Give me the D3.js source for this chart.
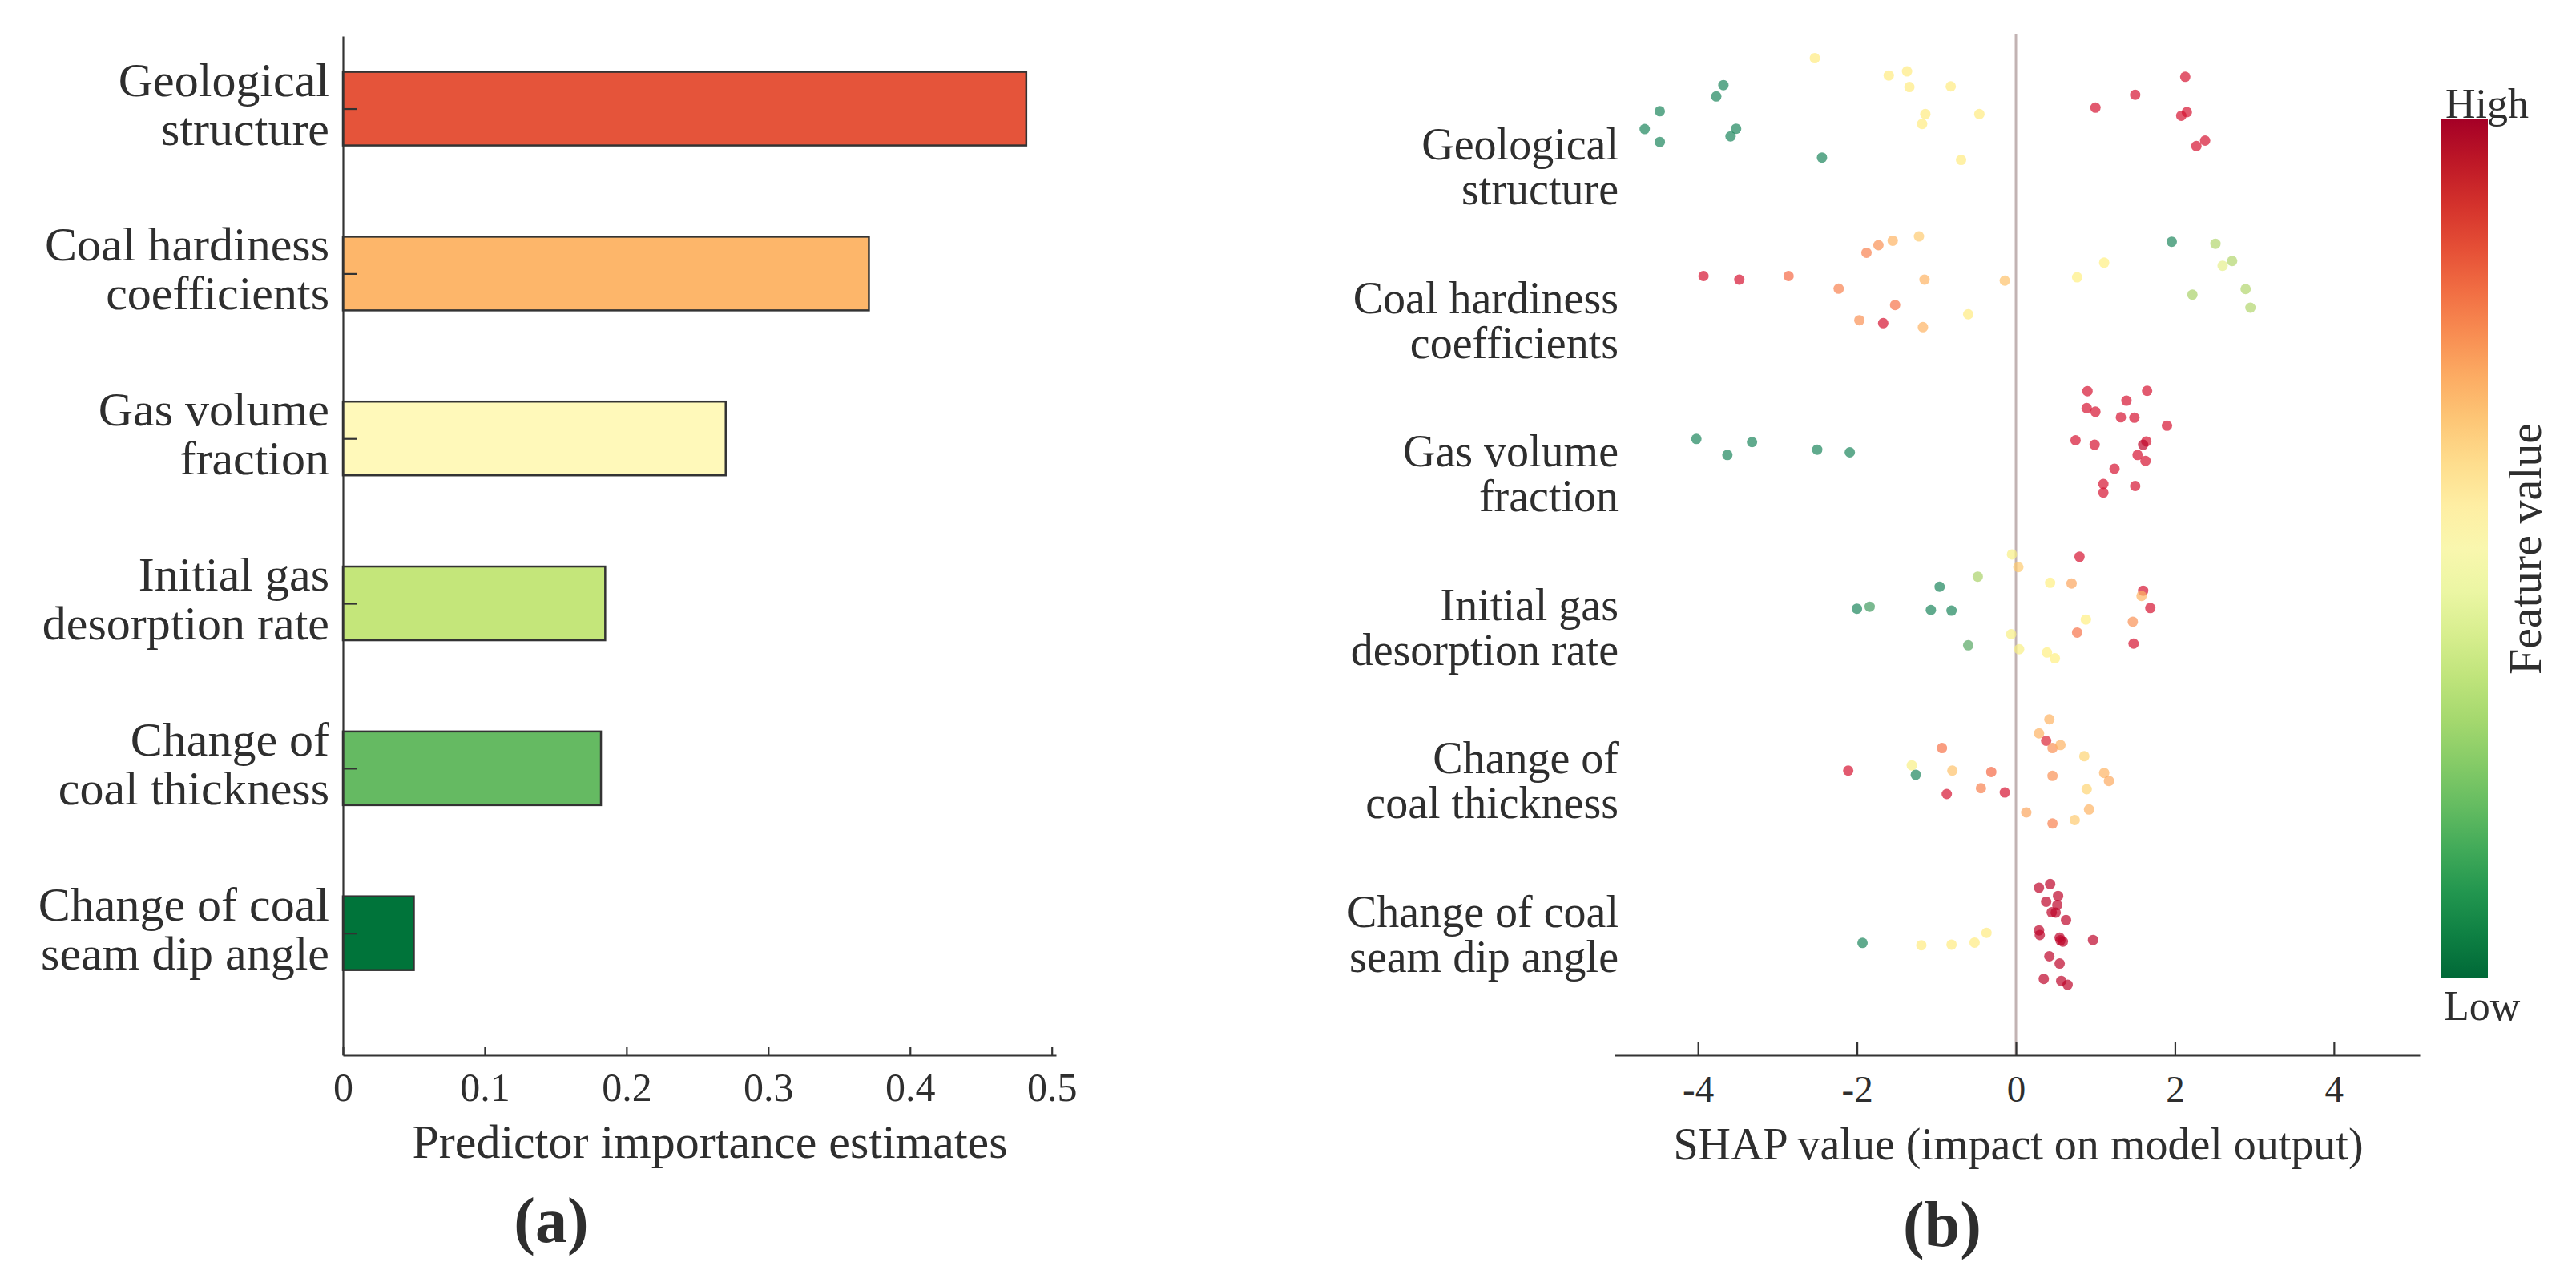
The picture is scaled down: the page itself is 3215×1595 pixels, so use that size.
<!DOCTYPE html>
<html lang="en">
<head>
  <meta charset="UTF-8">
  <title>Predictor importance and SHAP values</title>
  <script src="https://d3js.org/d3.v7.min.js"></script>
  <style>
    body { margin: 0; background: #fff; }
    text { font-family: "Liberation Serif", "Times New Roman", serif; fill: #2e2e2e; }
  </style>
</head>
<body>
  <div class="chart"></div>
  <script>
    // ---- data ----
    const labelLines = [
      ['Geological', 'structure'],
      ['Coal hardiness', 'coefficients'],
      ['Gas volume', 'fraction'],
      ['Initial gas', 'desorption rate'],
      ['Change of', 'coal thickness'],
      ['Change of coal', 'seam dip angle']
    ];
    const importance = [0.482, 0.371, 0.270, 0.185, 0.182, 0.050];
    const barColors = ['#e5543a', '#fdb66a', '#fff9ba', '#c4e67a', '#65ba62', '#00743a'];
    const importanceTicks = [0, 0.1, 0.2, 0.3, 0.4, 0.5];
    const shapTicks = [-4, -2, 0, 2, 4];

    // SHAP points: [shap value, vertical jitter (rows), feature value 0..1]
    const shapGeological = [
      [-4.48, 0.016, 0.08], [-4.67, 0.124, 0.08], [-4.48, 0.202, 0.08], [-3.68, -0.143, 0.08],
      [-3.77, -0.074, 0.08], [-3.52, 0.122, 0.08], [-3.59, 0.168, 0.08], [-2.44, 0.297, 0.08],
      [-2.53, -0.306, 0.53], [-1.60, -0.201, 0.53], [-1.37, -0.226, 0.53], [-1.34, -0.131, 0.53],
      [-0.82, -0.135, 0.53], [-1.14, 0.033, 0.53], [-1.18, 0.093, 0.53], [-0.46, 0.033, 0.53],
      [-0.69, 0.311, 0.53],
      [1.00, -0.006, 0.9], [1.50, -0.084, 0.9], [2.13, -0.193, 0.9], [2.15, 0.021, 0.9],
      [2.08, 0.043, 0.9], [2.27, 0.227, 0.9], [2.38, 0.194, 0.9]
    ];
    const shapHardness = [
      [-3.93, 0.015, 0.9], [-3.48, 0.037, 0.9], [-2.86, 0.015, 0.8], [-2.23, 0.092, 0.75],
      [-1.88, -0.126, 0.75], [-1.73, -0.172, 0.72], [-1.55, -0.199, 0.65], [-1.22, -0.225, 0.6],
      [-1.15, 0.037, 0.65], [-0.14, 0.043, 0.62], [-1.52, 0.191, 0.78], [-1.97, 0.283, 0.72],
      [-1.67, 0.301, 0.9], [-1.17, 0.325, 0.65], [-0.60, 0.247, 0.53], [0.77, 0.023, 0.52],
      [1.11, -0.066, 0.52], [1.96, -0.193, 0.1], [2.51, -0.181, 0.32], [2.72, -0.076, 0.32],
      [2.60, -0.047, 0.45], [2.89, 0.094, 0.32], [2.95, 0.207, 0.32], [2.22, 0.128, 0.3]
    ];
    const shapGasVolume = [
      [-4.02, 0.003, 0.08], [-3.63, 0.100, 0.08], [-3.32, 0.022, 0.08], [-2.50, 0.068, 0.08],
      [-2.09, 0.084, 0.08],
      [0.90, -0.287, 0.9], [1.65, -0.289, 0.9], [1.39, -0.229, 0.9], [0.89, -0.184, 0.9],
      [1.00, -0.162, 0.9], [1.32, -0.128, 0.9], [1.49, -0.126, 0.9], [1.90, -0.077, 0.9],
      [0.75, 0.011, 0.9], [0.99, 0.038, 0.9], [1.64, 0.018, 0.9], [1.60, 0.038, 0.97],
      [1.53, 0.100, 0.9], [1.63, 0.136, 0.9], [1.24, 0.183, 0.9], [1.10, 0.276, 0.9],
      [1.10, 0.328, 0.9], [1.50, 0.288, 0.9]
    ];
    const shapDesorption = [
      [-0.05, -0.297, 0.5], [0.03, -0.220, 0.6], [-0.48, -0.162, 0.3], [-0.96, -0.101, 0.08],
      [-2.00, 0.032, 0.08], [-1.84, 0.020, 0.15], [-1.07, 0.040, 0.08], [-0.81, 0.044, 0.08],
      [-0.60, 0.254, 0.18], [-0.06, 0.187, 0.5], [0.04, 0.278, 0.5], [0.80, -0.283, 0.9],
      [0.43, -0.125, 0.52], [0.70, -0.121, 0.68], [1.60, -0.077, 0.9], [1.58, -0.045, 0.65],
      [1.69, 0.028, 0.9], [0.88, 0.098, 0.52], [1.47, 0.111, 0.72], [0.77, 0.177, 0.78],
      [1.48, 0.244, 0.9], [0.39, 0.298, 0.52], [0.49, 0.333, 0.52]
    ];
    const shapThickness = [
      [-2.11, 0.014, 0.9], [-1.31, -0.018, 0.5], [-1.26, 0.039, 0.08], [-0.93, -0.123, 0.78],
      [-0.80, 0.014, 0.62], [-0.87, 0.156, 0.9], [-0.44, 0.121, 0.75], [-0.31, 0.022, 0.8],
      [-0.14, 0.147, 0.9], [0.42, -0.297, 0.65], [0.29, -0.212, 0.65], [0.38, -0.167, 0.88],
      [0.46, -0.123, 0.72], [0.56, -0.141, 0.65], [0.86, -0.073, 0.58], [0.46, 0.046, 0.72],
      [1.11, 0.028, 0.65], [1.17, 0.077, 0.67], [0.89, 0.127, 0.58], [0.92, 0.250, 0.65],
      [0.74, 0.314, 0.6], [0.46, 0.335, 0.75], [0.13, 0.268, 0.68]
    ];
    const shapDipAngle = [
      [-1.93, 0.059, 0.08], [-1.19, 0.073, 0.53], [-0.81, 0.069, 0.53], [-0.52, 0.057, 0.53],
      [-0.37, -0.002, 0.53],
      [0.29, -0.276, 0.97], [0.43, -0.298, 0.97], [0.53, -0.226, 0.97], [0.38, -0.191, 0.97],
      [0.52, -0.171, 0.97], [0.45, -0.127, 0.97], [0.50, -0.125, 0.97], [0.63, -0.080, 0.97],
      [0.29, -0.017, 0.97], [0.30, 0.011, 0.97], [0.55, 0.027, 0.97], [0.56, 0.043, 0.97],
      [0.59, 0.051, 0.97], [0.97, 0.041, 0.97], [0.42, 0.140, 0.97], [0.55, 0.184, 0.97],
      [0.35, 0.277, 0.97], [0.57, 0.289, 0.97], [0.65, 0.313, 0.97]
    ];
    const shapRows = [shapGeological, shapHardness, shapGasVolume, shapDesorption, shapThickness, shapDipAngle];

    // ---- layout ----
    const svg = d3.select('.chart').append('svg').attr('width', 3215).attr('height', 1595);

    const axisColor = '#333';
    const rowScale = d3.scaleLinear().domain([-0.44, 5.74]).range([45, 1317]);
    const barHalf = 0.2235;

    // ---- (a) predictor importance ----
    const xImp = d3.scaleLinear().domain([0, 0.503]).range([428, 1318]);
    const gA = svg.append('g');

    gA.selectAll('rect.bar')
      .data(importance)
      .enter()
      .append('rect')
      .attr('class', 'bar')
      .attr('x', xImp(0))
      .attr('y', (d, i) => rowScale(i - barHalf))
      .attr('width', d => xImp(d) - xImp(0))
      .attr('height', rowScale(barHalf) - rowScale(-barHalf))
      .style('fill', (d, i) => barColors[i])
      .style('stroke', '#333')
      .style('stroke-width', 2.5);

    const xAxisA = gA.append('g')
      .attr('transform', `translate(0,${rowScale.range()[1]})`)
      .call(d3.axisBottom(xImp)
        .tickValues(importanceTicks)
        .tickFormat(d => d === 0 ? '0' : d3.format('.1f')(d))
        .tickSize(-10).tickSizeOuter(0).tickPadding(21));
    const yAxisA = gA.append('g')
      .attr('transform', `translate(${xImp(0)},0)`)
      .call(d3.axisLeft(rowScale).tickValues(d3.range(6)).tickFormat('').tickSize(-17).tickSizeOuter(0));
    [xAxisA, yAxisA].forEach(a => {
      a.select('.domain').attr('stroke', axisColor).attr('stroke-width', 2.2);
      a.selectAll('.tick line').attr('stroke', axisColor).attr('stroke-width', 2.2);
    });
    xAxisA.selectAll('.tick text').style('font-size', '50px').attr('fill', '#2e2e2e');

    const labA = gA.selectAll('text.flabel')
      .data(labelLines)
      .enter()
      .append('text')
      .attr('class', 'flabel')
      .attr('text-anchor', 'end')
      .style('font-size', '60px');
    labA.append('tspan').attr('x', 411).attr('y', (d, i) => rowScale(i) - 16).text(d => d[0]);
    labA.append('tspan').attr('x', 411).attr('y', (d, i) => rowScale(i) + 45).text(d => d[1]);

    gA.append('text').attr('x', 886).attr('y', 1445).attr('text-anchor', 'middle')
      .style('font-size', '60px').text('Predictor importance estimates');
    gA.append('text').attr('x', 688).attr('y', 1550).attr('text-anchor', 'middle')
      .style('font-size', '80px').style('font-weight', 'bold').text('(a)');

    // ---- (b) SHAP summary ----
    const xShap = d3.scaleLinear().domain([-5.05, 5.08]).range([2015, 3020]);
    // dot colours (low -> high feature value), drawn semi-transparent
    const dotColor = d3.scaleLinear()
      .domain([0, 0.1, 0.3, 0.45, 0.52, 0.65, 0.8, 0.9, 1])
      .range(['#147d55', '#1f885e', '#aad269', '#e6f08c', '#fff082', '#fdb464', '#f56946', '#d51432', '#b40028'])
      .interpolate(d3.interpolateRgb);
    const gB = svg.append('g');

    gB.append('line')
      .attr('x1', xShap(0)).attr('x2', xShap(0))
      .attr('y1', 43).attr('y2', rowScale.range()[1])
      .style('stroke', '#c2b3b3').style('stroke-width', 3);

    gB.selectAll('g.row')
      .data(shapRows)
      .enter()
      .append('g')
      .attr('class', 'row')
      .each(function (pts, i) {
        d3.select(this).selectAll('circle')
          .data(pts)
          .enter()
          .append('circle')
          .attr('r', 6.5)
          .attr('cx', d => xShap(d[0]))
          .attr('cy', d => rowScale(i + d[1]))
          .style('fill', d => dotColor(d[2]))
          .style('fill-opacity', 0.7);
      });

    const xAxisB = gB.append('g')
      .attr('transform', `translate(0,${rowScale.range()[1]})`)
      .call(d3.axisBottom(xShap).tickValues(shapTicks).tickFormat(d => String(d))
        .tickSize(-17).tickSizeOuter(0).tickPadding(25));
    xAxisB.select('.domain').attr('stroke', axisColor).attr('stroke-width', 2.2);
    xAxisB.selectAll('.tick line').attr('stroke', axisColor).attr('stroke-width', 2.2);
    xAxisB.selectAll('.tick text').style('font-size', '47px').attr('fill', '#2e2e2e');

    const labelRow = d3.scalePoint().domain(d3.range(6)).range([199, 1157]);
    const labB = gB.selectAll('text.flabel')
      .data(labelLines)
      .enter()
      .append('text')
      .attr('class', 'flabel')
      .attr('text-anchor', 'end')
      .style('font-size', '56px');
    labB.append('tspan').attr('x', 2020).attr('y', (d, i) => labelRow(i)).text(d => d[0]);
    labB.append('tspan').attr('x', 2020).attr('y', (d, i) => labelRow(i) + 56).text(d => d[1]);

    gB.append('text').attr('x', 2519).attr('y', 1447).attr('text-anchor', 'middle')
      .style('font-size', '56px').text('SHAP value (impact on model output)');
    gB.append('text').attr('x', 2424).attr('y', 1555).attr('text-anchor', 'middle')
      .style('font-size', '80px').style('font-weight', 'bold').text('(b)');

    // colour bar
    const grad = svg.append('defs').append('linearGradient')
      .attr('id', 'fv').attr('x1', 0).attr('x2', 0).attr('y1', 0).attr('y2', 1);
    grad.selectAll('stop')
      .data(d3.range(0, 1.0001, 0.05))
      .enter()
      .append('stop')
      .attr('offset', d => d)
      .attr('stop-color', d => d3.interpolateRdYlGn(d));
    gB.append('rect').attr('x', 3047).attr('y', 149).attr('width', 58).attr('height', 1072)
      .style('fill', 'url(#fv)');
    gB.append('text').attr('x', 3052).attr('y', 147).style('font-size', '52px').text('High');
    gB.append('text').attr('x', 3050).attr('y', 1273).style('font-size', '52px').text('Low');
    gB.append('text')
      .attr('transform', 'translate(3171,685) rotate(-90)')
      .attr('text-anchor', 'middle')
      .style('font-size', '58px')
      .text('Feature value');
  </script>
</body>
</html>
